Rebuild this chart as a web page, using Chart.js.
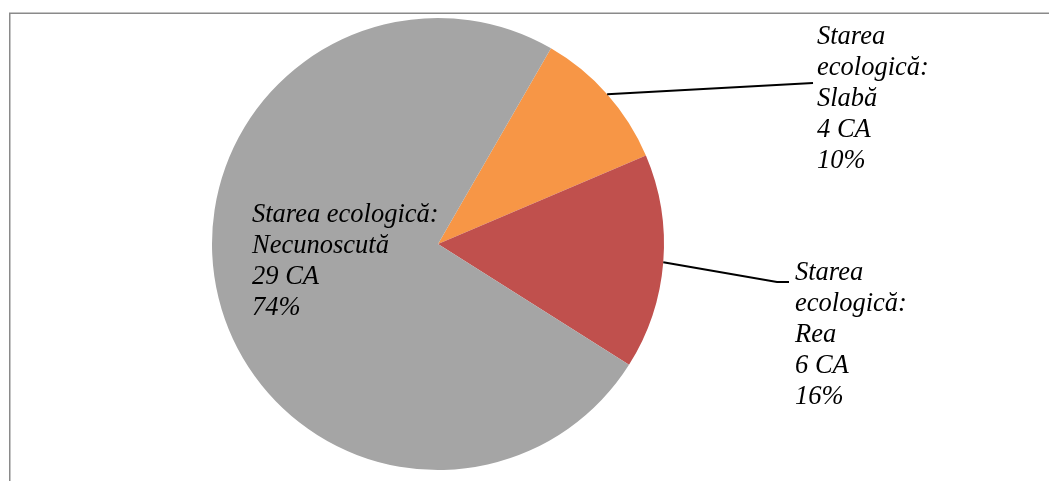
<!DOCTYPE html>
<html>
<head>
<meta charset="utf-8">
<script src="https://cdn.jsdelivr.net/npm/chart.js@4/dist/chart.umd.min.js"></script>
<style>
  html, body { margin: 0; padding: 0; background: #fff; }
  #wrap { position: relative; width: 1049px; height: 481px; }
</style>
</head>
<body>
<div id="wrap"><canvas id="chart_pie" width="1049" height="481"></canvas></div>
<script>
// data
const categories = ['Slabă', 'Rea', 'Necunoscută'];
const counts = [4, 6, 29];
const percents = ['10%', '16%', '74%'];
const colors = ['#F79646', '#C0504D', '#A5A5A5'];

// label placement (left x of text, top line center y, leader end)
const labelBoxes = [
  { x: 817, y: 37, line: true, elbow: null, end: [813, 83] },
  { x: 795, y: 273, line: true, elbow: [777, 282], end: [789, 282] },
  { x: 252, y: 215, line: false, oneLine: true }
];

const fontStr = 'italic 26.5px "Liberation Serif", "DejaVu Serif", serif';
const lineH = 31;

const frame = {
  id: 'frame',
  beforeDraw(chart) {
    const ctx = chart.ctx;
    ctx.save();
    ctx.strokeStyle = '#8a8a8a';
    ctx.lineWidth = 1.5;
    ctx.beginPath();
    ctx.moveTo(9.75, 481);
    ctx.lineTo(9.75, 13.25);
    ctx.lineTo(1049, 13.25);
    ctx.stroke();
    ctx.restore();
  }
};

const pieLabels = {
  id: 'pieLabels',
  afterDatasetsDraw(chart) {
    const ctx = chart.ctx;
    const arcs = chart.getDatasetMeta(0).data;
    ctx.save();
    ctx.font = fontStr;
    ctx.fillStyle = '#000';
    ctx.textBaseline = 'middle';
    ctx.textAlign = 'left';
    arcs.forEach((arc, i) => {
      const box = labelBoxes[i];
      const mid = (arc.startAngle + arc.endAngle) / 2;
      if (box.line) {
        const sx = arc.x + Math.cos(mid) * arc.outerRadius;
        const sy = arc.y + Math.sin(mid) * arc.outerRadius;
        ctx.strokeStyle = '#000';
        ctx.lineWidth = 2;
        ctx.beginPath();
        ctx.moveTo(sx, sy);
        if (box.elbow) ctx.lineTo(box.elbow[0], box.elbow[1]);
        ctx.lineTo(box.end[0], box.end[1]);
        ctx.stroke();
      }
      let lines;
      if (box.oneLine) lines = ['Starea ecologică:', categories[i], counts[i] + ' CA', percents[i]];
      else lines = ['Starea', 'ecologică:', categories[i], counts[i] + ' CA', percents[i]];
      lines.forEach((t, k) => ctx.fillText(t, box.x, box.y + k * lineH));
    });
    ctx.restore();
  }
};

new Chart(document.getElementById('chart_pie'), {
  type: 'pie',
  data: {
    labels: categories,
    datasets: [{
      data: counts,
      backgroundColor: colors,
      borderWidth: 0
    }]
  },
  options: {
    responsive: false,
    animation: false,
    rotation: 30,
    layout: { padding: { left: 212, right: 385, top: 18, bottom: 11 } },
    plugins: {
      legend: { display: false },
      tooltip: { enabled: false }
    }
  },
  plugins: [frame, pieLabels]
});
</script>
</body>
</html>
